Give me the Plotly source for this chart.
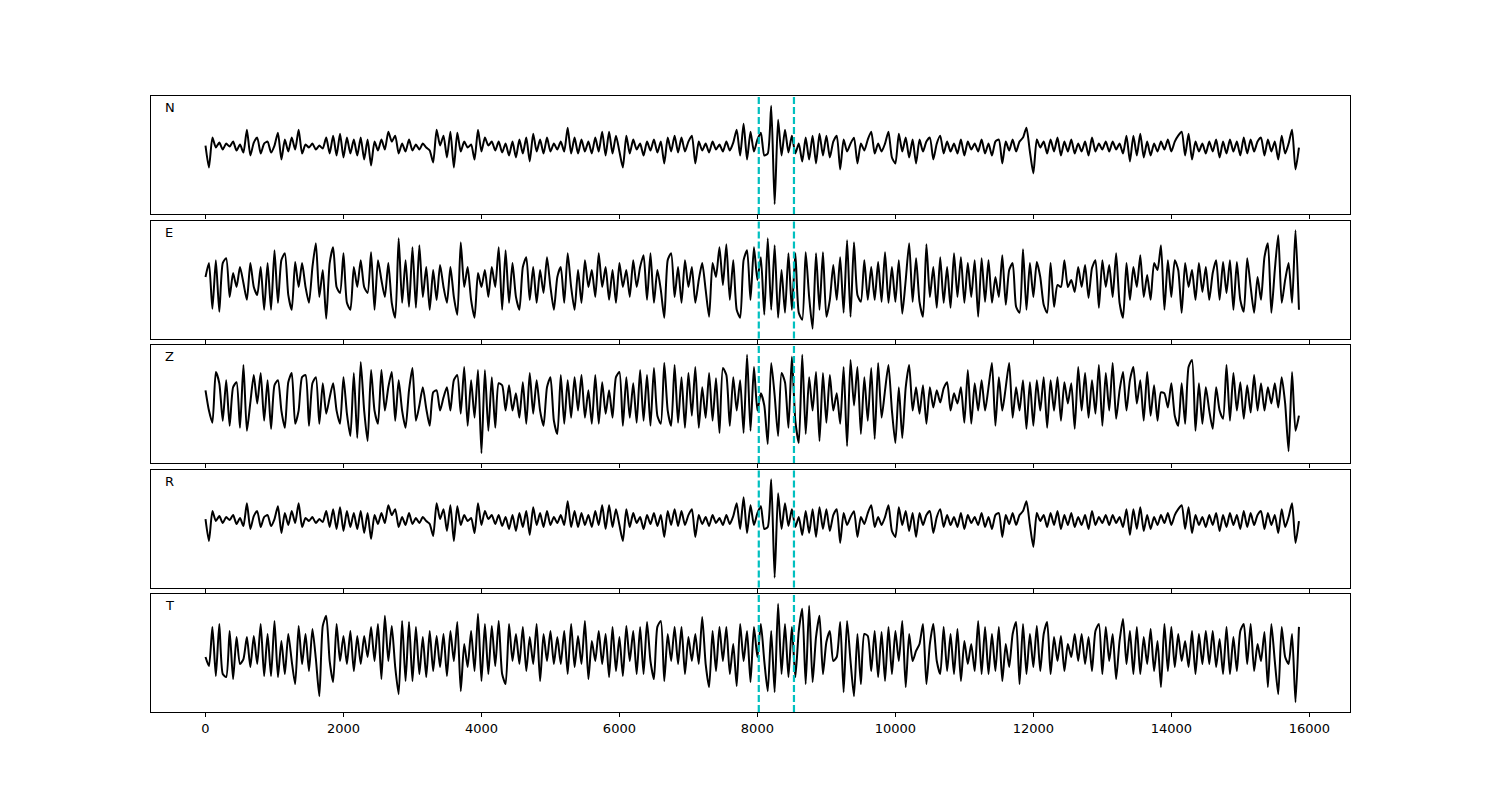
import numpy as np
import plotly.graph_objects as go
from plotly.subplots import make_subplots

# ---------------- data ----------------
SAMPLE_STEP = 50                     # samples between stored points
components = ["N", "E", "Z", "R", "T"]

n_values = [
    2, -20, 10, 0, 5, -2, 4, 1, 6, -3,
    3, -5, 18, -8, 5, 10, -6, 4, 6, -5,
    2, 15, -12, 8, -4, 10, -2, 18, -6, 3,
    0, 4, -2, 2, -1, 10, -6, 12, -8, 14,
    -10, 10, -6, 8, -8, 10, -12, 8, -18, 6,
    -3, 8, -2, 16, 6, 12, -6, 4, -4, 8,
    -3, 3, -2, 4, 0, -3, -15, 18, 2, 12,
    -10, 16, -20, 15, -4, 6, 0, 3, -12, 18,
    -4, 10, 2, 6, -3, 6, -5, 4, -8, 6,
    -10, 8, -6, 10, -14, 14, -4, 8, -6, 10,
    -4, 4, -2, 6, -4, 20, -6, 10, -6, 8,
    -4, 6, -6, 10, -4, 16, -8, 16, -6, 12,
    -4, -20, 12, -6, 8, -2, 4, -8, 6, -3,
    8, -5, 6, -16, 10, -4, 12, -5, 10, -4,
    6, 12, -16, 6, -3, 4, -5, 6, -2, 3,
    -4, 6, -3, 5, 18, -8, 24, -12, 16, -4,
    8,
    15, -8, -6, 42, -57, 28, -8, 18, -5, 12,
    -6, 4, -14, 10, -12, 12, -16, 14, -8, 12,
    -10, 6, 12, -22, 8, -4, 4, 10, -16, 4,
    -3, 8, 16, -6, 4, -4, 4, 16, -10, -16,
    14, -4, 10, -10, 8, -16, 8, -4, 6, 10,
    -12, 4, 12, -6, 6, -4, 4, -6, 8, -8,
    6, -2, 4, -4, 8, -6, 4, -8, 6, 8,
    -16, 6, -3, 8, -4, 6, 10, 20, -4, -26,
    8, 0, 6, -6, 8, -4, 10, -8, 6, -4,
    8, -6, 4, -4, 6, -8, 10, -4, 4, -2,
    6, -4, 6, -2, 4, -6, 12, -14, 12, -8,
    14, -10, 6, -8, 4, -4, 6, -2, 8, -4,
    6, 12, 16, -8, 14, -12, 6, -4, 4, -6,
    6, -4, 8, -10, 6, -6, 8, -4, 6, -8,
    10, -6, 8, -4, 6, 10, -8, 8, -4, 6,
    -12, 12, -6, 4, 18, -22, 0,
]

e_values = [
    3, 17, -29, 20, -32, 17, 22, -17, 7, -7,
    13, -3, -20, 17, -7, -15, 13, -30, 17, -30,
    30, -23, 20, 27, -15, -30, 18, -7, 17, -7,
    -23, 13, 37, -17, 10, -39, 17, 33, -7, -13,
    27, -23, -30, 13, -7, 20, -7, -13, 28, -30,
    20, 0, -17, 17, -23, -38, 42, -23, 20, -27,
    33, -28, 35, -17, 13, -30, 10, -20, 15, -7,
    -23, 13, -17, -35, 38, -7, 13, -20, -38, 7,
    -7, 10, -17, 13, -7, 33, -30, 30, -23, 17,
    -17, -30, 13, 23, -20, 13, -23, 10, -13, 23,
    -7, -30, 3, 13, -23, 27, -7, -30, 10, -23,
    20, -7, 10, -17, 27, -7, 13, -20, 10, -23,
    17, -7, 10, -17, 20, -7, 13, 25, -20, 27,
    -23, 10, -10, -38, 20, 27, -17, 13, -23, 20,
    -7, 13, -23, 0, 17, -10, -37, 17, 3, 33,
    -5, 36, -20, 20, -30, -38, 20, 30, -20, 33,
    0,
    23, -35, 42, -30, 35, -38, 10, -33, 27, -30,
    27, -33, -40, 28, -17, -49, 27, -30, 28, -37,
    -20, 15, -20, 23, -33, 40, -37, 38, -15, -22,
    20, -20, 13, -20, 18, -22, 28, -23, 13, -22,
    20, -34, 0, 37, -22, 22, -22, -37, 36, -17,
    13, -28, 23, -23, 13, -28, 27, -17, 23, -23,
    17, -17, 20, -37, 22, -22, 20, -23, 3, -17,
    25, -25, 10, 17, -27, -33, 31, -30, 17, -17,
    18, 3, -25, -33, 17, -27, -5, -7, 20, -7,
    0, -12, 13, -7, 15, -18, 12, 20, -28, 20,
    -7, 15, -17, 27, -23, -38, 17, -20, 13, -7,
    25, -17, 5, -20, 17, 10, 35, -30, 20, -17,
    20, 10, -33, 17, -7, 10, -20, 17, -12, 13,
    -20, 7, 20, -20, 18, -13, 20, -30, 18, -20,
    -32, 22, -7, -33, 3, -20, 23, 37, -33, 10,
    45, -23, 0, 17, -23, 50, -30,
]

z_values = [
    10, -10, -22, 28, 17, -20, 20, -25, 13, 18,
    -27, 35, -30, -2, 25, -3, 27, -20, 20, -28,
    15, 20, -10, -27, 18, 27, -23, -10, 23, 25,
    -25, 17, 23, -23, 17, -13, 3, 17, -10, -23,
    23, -13, -35, 27, -37, 38, -10, -40, 30, -10,
    -23, 30, -10, 13, 28, -20, 20, -10, -27, 10,
    32, -20, -5, 13, -8, -25, 8, 10, -10, 3,
    13, -10, 20, 25, -13, 33, -25, 20, -17, 30,
    -52, 30, -30, 23, -27, 17, 15, -10, 15, -10,
    7, -17, 18, -23, 27, -13, 20, -10, -25, 13,
    23, -20, -33, 25, -23, 20, -17, 23, -10, 25,
    -17, 10, -23, 25, -23, 18, -13, 10, -17, 23,
    28, -25, 23, -17, 17, -22, 30, -20, 25, -25,
    32, -15, -23, 37, -10, -25, 35, -22, 23, -27,
    27, -15, 33, -27, 13, -17, 27, -20, 22, -32,
    32, 25, -25, 23, -10, 20, -32, 45, -30, 33,
    -10,
    7, -5, -43, 37, 5, -35, 27, 18, -27, 43,
    -20, -42, 45, -33, 23, -10, 28, -40, 27, -22,
    25, -10, 7, -23, 33, -45, 40, -5, 33, -33,
    23, -20, 32, -38, 37, -17, 10, 35, -10, -42,
    13, -37, 13, 35, -10, 13, -13, 15, -23, 13,
    -7, 10, -2, 12, 18, -10, 7, -3, 13, -22,
    30, -23, 17, -10, 20, -10, 13, 37, -25, 23,
    -10, 13, 37, -17, 13, -10, 20, -28, 18, -25,
    20, -10, 23, -27, 20, -10, 23, -20, 18, -3,
    17, -28, 33, -10, 27, -17, 20, -13, 35, -25,
    27, -10, 37, -18, 10, 28, -10, 20, 33, -3,
    20, -20, 28, -15, 15, -20, 8, 7, -7, 17,
    -15, -25, 17, -23, 33, 40, -30, 17, -23, 13,
    -10, -28, 13, -10, -18, 35, -20, 27, -10, 18,
    -18, 15, -12, 25, -10, 17, -10, 13, -3, 17,
    -7, 23, -3, -50, 28, -30, -15,
]

# the R trace reads the same as N in the reference
r_values = list(n_values)

t_values = [
    -3, -12, 27, -22, 30, -20, -23, 23, -25, 17,
    -10, -5, 17, -13, 18, -10, 30, -22, 20, -22,
    33, -23, 13, -20, 20, -7, -30, 28, -10, 20,
    -17, 25, -5, -42, 28, 38, -7, -28, 30, -7,
    18, -10, 23, -17, 18, -10, 18, -3, 27, -7,
    30, -25, 38, -7, 28, -13, -40, 33, -27, 32,
    -27, 27, -20, 17, -23, 23, -17, 18, -13, 20,
    -22, 23, -7, 32, -37, 10, -13, 23, -17, 40,
    -27, 30, -20, 28, -12, 33, -20, -30, 30, -7,
    20, -10, 27, -17, 17, -10, 30, -27, 20, -7,
    23, -10, 17, -10, 23, -20, 30, -13, 18, -10,
    33, -25, 13, -7, 23, -10, 20, -23, 27, -17,
    17, -22, 28, -7, 23, -20, 27, -20, 32, -7,
    -25, 27, 33, -27, 20, -7, 27, -10, 27, -20,
    17, -7, 20, -10, 37, -10, -33, 23, -17, 27,
    -7, 27, -20, 10, -32, 30, -7, 23, -28, 27,
    -3,
    30, -7, -37, 23, -38, 50, -20, 30, -23, 27,
    -23, 23, 45, -30, 48, -28, 17, 38, -20, 12,
    23, -7, -3, 32, -38, 33, -7, -42, 20, -30,
    20, 18, -17, 23, -23, 22, -27, 27, -20, 23,
    -7, 33, -33, 20, -7, 3, 10, 30, -30, 10,
    30, -7, -20, 27, -17, 20, -20, 25, -27, 13,
    -10, 10, -17, 33, -20, 27, -20, 20, -17, 27,
    -27, 10, -13, 20, 32, -30, 30, -20, 20, -13,
    28, -17, 20, 32, -20, 17, -7, 18, -17, 10,
    -3, 20, -7, 20, -10, 17, -17, 23, 30, -20,
    27, -7, 20, -25, 13, 35, -10, 23, -20, 27,
    -20, 17, -10, 25, -17, 13, -33, 30, -17, 27,
    -13, 20, -7, 13, -13, 23, -20, 20, -10, 23,
    -10, 23, -13, 15, -20, 27, -20, 17, -17, 23,
    30, -10, 30, -17, 10, -7, 22, -33, 30, -7,
    -40, 27, -3, -10, 20, -48, 27,
]

pick_times = [8020, 8530]           # P and S picks (dashed cyan lines)
x_ticks = [0, 2000, 4000, 6000, 8000, 10000, 12000, 14000, 16000]
x_tick_labels = ["0", "2000", "4000", "6000", "8000",
                 "10000", "12000", "14000", "16000"]
x_limits = [-790, 16590]

series = [n_values, e_values, z_values, r_values, t_values]

# ---------------- figure ----------------
FONT = "DejaVu Sans"
fig = make_subplots(rows=5, cols=1, shared_xaxes=True,
                    vertical_spacing=6.5 / 616)

for i, (name, vals) in enumerate(zip(components, series), start=1):
    x = np.arange(len(vals)) * SAMPLE_STEP
    fig.add_trace(go.Scatter(x=x, y=vals, mode="lines",
                             line=dict(color="black", width=2,
                                       shape="spline", smoothing=0.6),
                             showlegend=False, hoverinfo="skip"),
                  row=i, col=1)
    lo, hi = min(vals), max(vals)
    pad = 0.1 * (hi - lo)
    fig.update_yaxes(range=[lo - pad, hi + pad], showticklabels=False,
                     ticks="", showgrid=False, zeroline=False,
                     showline=True, mirror=True, linecolor="black",
                     linewidth=1, row=i, col=1)
    fig.update_xaxes(range=x_limits, tickvals=x_ticks,
                     ticktext=x_tick_labels,
                     ticks="outside", ticklen=4, tickwidth=1,
                     tickcolor="black", showgrid=False, zeroline=False,
                     showline=True, mirror=True, linecolor="black",
                     linewidth=1, showticklabels=(i == 5),
                     tickfont=dict(family=FONT, size=13, color="black"),
                     row=i, col=1)
    xref = "x domain" if i == 1 else f"x{i} domain"
    yref = "y domain" if i == 1 else f"y{i} domain"
    fig.add_annotation(text=name, xref=xref, yref=yref, x=0.01, y=0.9,
                       xanchor="left", yanchor="middle", showarrow=False,
                       font=dict(family=FONT, size=13, color="black"))

for t in pick_times:
    fig.add_vline(x=t, line=dict(color="#00BFBF", width=2.2, dash="7px,3px"),
                  row="all", col=1)

fig.update_layout(width=1500, height=800,
                  margin=dict(l=151, r=150, t=96, b=88),
                  paper_bgcolor="white", plot_bgcolor="white",
                  font=dict(family=FONT, size=13, color="black"))

fig.write_html("out.html",
               config={"displayModeBar": False},
               post_script="document.body.style.margin='0';")
